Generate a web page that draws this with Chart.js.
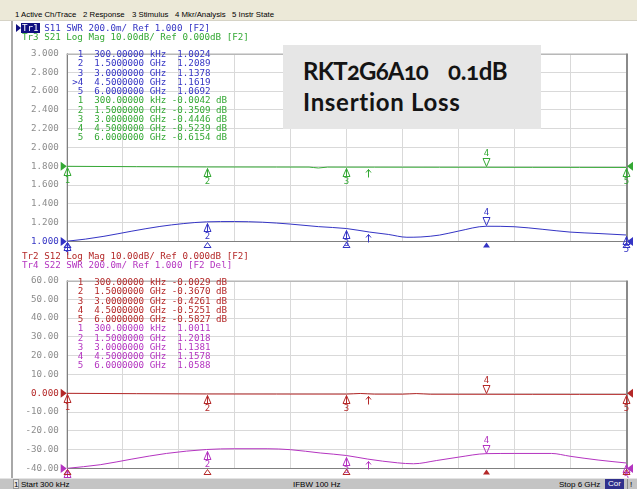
<!DOCTYPE html>
<html>
<head>
<meta charset="utf-8">
<script src="https://cdn.jsdelivr.net/npm/chart.js@4.4.0/dist/chart.umd.min.js"></script>
<style>
  body { margin: 0; width: 637px; height: 489px; position: relative; overflow: hidden; background: #fff; }
  .abs { position: absolute; white-space: pre; }
  .mono { font-family: "DejaVu Sans Mono", monospace; font-size: 9.2px; line-height: 10px; }
  #menu { left: 0; top: 0; width: 637px; height: 20px; background: #ece9d8; border-bottom: 1px solid #d6d3c6;
          font: 7.8px "Liberation Sans", Arial, sans-serif; color: #000; }
  #menu span { position: absolute; top: 10px; }
  #frameL { left: 11px; top: 21px; width: 2px; height: 458px; background: #a8a8a8; }
  #status { left: 0; top: 478px; width: 637px; height: 11px; background: #c4c4c4; border-top: 1px solid #e4e4e4;
            font: 8px "Liberation Sans", Arial, sans-serif; color: #000; }
  #status span { position: absolute; top: 1px; }
  #box { left: 283px; top: 45px; width: 258px; height: 84px; background: #e6e6e6;
         background-image: radial-gradient(#dadada 0.6px, transparent 0.7px); background-size: 2px 2px; }
  .boxText { font: bold 24px Lato, "Open Sans", sans-serif; line-height: 24px; color: #141414;
             font-feature-settings: "onum" 1; }
  canvas { position: absolute; left: 0; }
</style>
</head>
<body>
<div id="menu" class="abs">
  <span style="left:15px">1 Active Ch/Trace</span>
  <span style="left:83px">2 Response</span>
  <span style="left:132px">3 Stimulus</span>
  <span style="left:175px">4 Mkr/Analysis</span>
  <span style="left:232px">5 Instr State</span>
</div>
<div id="frameL" class="abs"></div>

<canvas id="topChart" width="637" height="215" style="top:40px"></canvas>
<canvas id="botChart" width="637" height="215" style="top:267px"></canvas>

<div id="box" class="abs"></div>
<div class="abs boxText" style="left:303px;top:59px;letter-spacing:-0.8px">RKT2G6A10</div>
<div class="abs boxText" style="left:448px;top:59px;letter-spacing:-0.3px">0.1dB</div>
<div class="abs boxText" style="left:303px;top:90px;letter-spacing:0.7px">Insertion Loss</div>

<div id="overlay"></div>

<div id="status" class="abs">
  <span style="left:13px;top:0;width:6px;height:10px;background:#e6e6e6;border:1px solid #999;box-sizing:border-box;text-align:center;line-height:9px">1</span>
  <span style="left:21px">Start 300 kHz</span>
  <span style="left:293px">IFBW 100 Hz</span>
  <span style="left:559px">Stop 6 GHz</span>
  <span style="left:605px;top:0;width:19px;height:10px;background:#30308c;color:#fff;text-align:center;line-height:10px">Cor</span>
  <span style="left:627px;top:0;width:1px;height:10px;background:#888"></span>
  <span style="left:630px">!</span>
</div>

<script>
// ---- data (frequency in GHz) ----
const markerFreqs = [0.0003, 1.5, 3.0, 4.5, 6.0];
const activeMarker = 3;           // marker 4
const refArrowFreq = 3.23;

const s11Markers = [1.0024, 1.2089, 1.1378, 1.1619, 1.0692];
const s21Markers = [-0.0042, -0.3509, -0.4446, -0.5239, -0.6154];
const s12Markers = [-0.0029, -0.3670, -0.4261, -0.5251, -0.5827];
const s22Markers = [1.0011, 1.2018, 1.1381, 1.1578, 1.0588];

const s11Freq = [0.0003, 0.2, 0.4, 0.7, 1.0, 1.25, 1.5, 1.8, 2.1, 2.4, 2.7, 3.0, 3.25, 3.45, 3.65, 3.8, 4.0, 4.2, 4.5, 4.8, 5.1, 5.4, 5.7, 6.0];
const s11Swr  = [1.0024, 1.025, 1.055, 1.11, 1.16, 1.19, 1.2089, 1.212, 1.205, 1.185, 1.158, 1.1378, 1.10, 1.075, 1.045, 1.048, 1.068, 1.11, 1.1619, 1.157, 1.13, 1.10, 1.085, 1.0692];

const s21Freq = [0.0003, 0.75, 1.5, 2.25, 2.6, 2.7, 2.8, 3.0, 3.3, 3.6, 4.0, 4.5, 5.0, 5.5, 6.0];
const s21Db   = [-0.0042, -0.20, -0.3509, -0.40, -0.42, -0.9, -0.43, -0.4446, -0.46, -0.48, -0.50, -0.5239, -0.55, -0.58, -0.6154];

const s12Freq = [0.0003, 0.75, 1.5, 2.25, 3.0, 3.15, 3.3, 3.6, 3.75, 3.9, 4.5, 5.0, 5.5, 6.0];
const s12Db   = [-0.0029, -0.20, -0.3670, -0.40, -0.4261, -0.1, -0.45, -0.47, -0.15, -0.50, -0.5251, -0.55, -0.57, -0.5827];

const s22Freq = [0.0003, 0.36, 0.7, 1.07, 1.5, 1.8, 2.15, 2.4, 2.72, 3.0, 3.23, 3.55, 3.72, 3.97, 4.2, 4.5, 4.8, 5.2, 5.4, 5.7, 6.0];
const s22Swr  = [1.0011, 1.04, 1.10, 1.16, 1.2018, 1.21, 1.21, 1.20, 1.165, 1.1381, 1.10, 1.06, 1.05, 1.085, 1.12, 1.1578, 1.16, 1.16, 1.13, 1.09, 1.0588];

const topTickLabels = ["3.000", "2.800", "2.600", "2.400", "2.200", "2.000", "1.800", "1.600", "1.400", "1.200", "1.000"];
const botTickLabels = ["60.00", "50.00", "40.00", "30.00", "20.00", "10.00", "0.000", "-10.00", "-20.00", "-30.00", "-40.00"];

const BLUE = '#3434c4', GREEN = '#34a834', RED = '#b42828', MAGENTA = '#b434c0';
const GRID = '#d9d9d9', FRAME = '#808080';

// ---- header + marker tables ----
const overlay = document.getElementById('overlay');
function addText(txt, x, y, color, extra) {
    const d = document.createElement('div');
    d.className = 'abs mono';
    d.style.left = x + 'px';
    d.style.top = y + 'px';
    d.style.color = color;
    if (extra) Object.assign(d.style, extra);
    d.textContent = txt;
    overlay.appendChild(d);
    return d;
}
function fmtFreq(f) {
    return f < 0.001 ? (f * 1e6).toFixed(5) + ' kHz' : f.toFixed(7) + ' GHz';
}
function markerTable(vals, isDb, color, y0, showActive) {
    vals.forEach((v, i) => {
        const pre = (showActive && i === activeMarker ? '>' : ' ') + (i + 1) + '  ' + fmtFreq(markerFreqs[i]);
        const txt = isDb ? pre + ' ' + v.toFixed(4) + ' dB' : pre + '  ' + v.toFixed(4);
        addText(txt, 72.2, y0 + i * 9.27, color);
    });
}

// upper header
const arrow = document.createElement('div');
arrow.className = 'abs';
Object.assign(arrow.style, { left: '16px', top: '23.5px', width: 0, height: 0, borderLeft: '5px solid #101080',
    borderTop: '4px solid transparent', borderBottom: '4px solid transparent' });
overlay.appendChild(arrow);
addText('Tr1', 22, 23, '#fff', { background: '#101080', padding: '0 1px', margin: '0 -1px' });
addText('    S11 SWR 200.0m/ Ref 1.000 [F2]', 22, 23, BLUE);
addText('Tr3 S21 Log Mag 10.00dB/ Ref 0.000dB [F2]', 22, 32, GREEN);
markerTable(s11Markers, false, BLUE, 49, true);
markerTable(s21Markers, true, GREEN, 49 + 5 * 9.27, false);

// lower header
addText('Tr2 S12 Log Mag 10.00dB/ Ref 0.000dB [F2]', 22, 251, RED);
addText('Tr4 S22 SWR 200.0m/ Ref 1.000 [F2 Del]', 22, 260, MAGENTA);
markerTable(s12Markers, true, RED, 277, false);
markerTable(s22Markers, false, MAGENTA, 277 + 5 * 9.27, false);

// ---- marker drawing plugin ----
function valueAt(fs, vs, f) {
    for (let i = 1; i < fs.length; i++) {
        if (f <= fs[i]) {
            const t = (f - fs[i - 1]) / (fs[i] - fs[i - 1]);
            return vs[i - 1] + t * (vs[i] - vs[i - 1]);
        }
    }
    return vs[vs.length - 1];
}

const markerPlugin = {
    id: 'vnaMarkers',
    beforeDatasetsDraw(chart) {
        const ctx = chart.ctx, a = chart.chartArea;
        ctx.save();
        ctx.strokeStyle = FRAME;
        ctx.lineWidth = 1;
        ctx.beginPath();
        ctx.moveTo(Math.round(a.left) + 0.5, a.top);
        ctx.lineTo(Math.round(a.left) + 0.5, Math.round(a.bottom) + 0.5);
        ctx.lineTo(a.right, Math.round(a.bottom) + 0.5);
        ctx.stroke();
        ctx.strokeStyle = '#b8b8b8';
        ctx.beginPath();
        ctx.moveTo(a.left, Math.round(a.top) + 0.5);
        ctx.lineTo(a.right, Math.round(a.top) + 0.5);
        ctx.stroke();
        ctx.strokeStyle = '#8a8a8a';
        ctx.lineWidth = 2;
        ctx.beginPath();
        ctx.moveTo(Math.round(a.right) + 1, a.top);
        ctx.lineTo(Math.round(a.right) + 1, a.bottom + 1);
        ctx.stroke();
        ctx.restore();
    },
    afterDatasetsDraw(chart, args, opts) {
        const ctx = chart.ctx, xs = chart.scales.x, a = chart.chartArea;
        ctx.save();
        ctx.lineWidth = 1;
        ctx.font = '9px "DejaVu Sans Mono", monospace';
        ctx.textAlign = 'center';
        opts.traces.forEach(t => {
            const ys = chart.scales[t.axis];
            const yRef = ys.getPixelForValue(t.ref);
            ctx.fillStyle = t.color;
            ctx.strokeStyle = t.color;
            // reference level triangles
            ctx.beginPath();
            ctx.moveTo(a.left, yRef); ctx.lineTo(a.left - 6, yRef - 4.5); ctx.lineTo(a.left - 6, yRef + 4.5);
            ctx.fill();
            ctx.beginPath();
            ctx.moveTo(a.right + 1, yRef); ctx.lineTo(a.right + 7, yRef - 4.5); ctx.lineTo(a.right + 7, yRef + 4.5);
            ctx.fill();
            // markers
            markerFreqs.forEach((f, i) => {
                const x = Math.round(xs.getPixelForValue(f)) + 0.5;
                const y = Math.round(ys.getPixelForValue(t.values[i])) + 0.5;
                ctx.beginPath();
                if (i === activeMarker) {
                    ctx.moveTo(x, y - 1); ctx.lineTo(x - 3.5, y - 9); ctx.lineTo(x + 3.5, y - 9); ctx.closePath();
                    ctx.stroke();
                    ctx.textBaseline = 'bottom';
                    ctx.fillText(String(i + 1), x, y - 9);
                } else {
                    ctx.moveTo(x, y + 1); ctx.lineTo(x - 3.5, y + 9); ctx.lineTo(x + 3.5, y + 9); ctx.closePath();
                    ctx.moveTo(x, y + 1); ctx.lineTo(x, y + 9);
                    ctx.stroke();
                    ctx.textBaseline = 'top';
                    ctx.fillText(String(i + 1), x, y + 9.5);
                }
            });
            // small arrow
            const xa = Math.round(xs.getPixelForValue(refArrowFreq)) + 0.5;
            const ya = Math.round(ys.getPixelForValue(valueAt(t.freqs, t.data, refArrowFreq))) + 0.5;
            ctx.beginPath();
            ctx.moveTo(xa, ya + 2); ctx.lineTo(xa, ya + 10);
            ctx.moveTo(xa - 2.5, ya + 5); ctx.lineTo(xa, ya + 2); ctx.lineTo(xa + 2.5, ya + 5);
            ctx.stroke();
        });
        // stimulus triangles under the grid
        ctx.strokeStyle = opts.activeColor;
        ctx.fillStyle = opts.activeColor;
        markerFreqs.forEach((f, i) => {
            const x = Math.round(xs.getPixelForValue(f)) + 0.5;
            const yb = Math.round(a.bottom) + 1.5;
            ctx.beginPath();
            ctx.moveTo(x, yb); ctx.lineTo(x - 3.5, yb + 5); ctx.lineTo(x + 3.5, yb + 5); ctx.closePath();
            if (i === activeMarker) ctx.fill(); else ctx.stroke();
        });
        ctx.restore();
    }
};

function toPoints(fs, vs) {
    return fs.map((f, i) => ({ x: f, y: vs[i] }));
}

function makeChart(id, cfg) {
    const lineDs = (label, fs, vs, color, axis) => ({
        label, data: toPoints(fs, vs), yAxisID: axis,
        borderColor: color, borderWidth: 1, pointRadius: 0,
        cubicInterpolationMode: 'monotone', fill: false
    });
    const tickVals = cfg.tickLabels.map(l => parseFloat(l)).sort((p, q) => p - q);
    return new Chart(document.getElementById(id), {
        type: 'line',
        data: { datasets: cfg.series.map(s => lineDs(s.label, s.freqs, s.data, s.color, s.axis)) },
        options: {
            responsive: false,
            animation: false,
            layout: { padding: { left: 6, right: 11, top: 9, bottom: 12 } },
            plugins: {
                legend: { display: false },
                tooltip: { enabled: false },
                vnaMarkers: { traces: cfg.series, activeColor: cfg.activeColor }
            },
            scales: {
                x: {
                    type: 'linear', min: markerFreqs[0], max: 6,
                    afterBuildTicks: s => {
                        s.ticks = [];
                        for (let k = 0; k <= 10; k++) s.ticks.push({ value: s.min + k * (s.max - s.min) / 10 });
                    },
                    ticks: { display: false },
                    grid: { color: GRID, drawTicks: false },
                    border: { display: false },
                    afterFit: s => { s.height = 0; }
                },
                [cfg.mainAxis]: {
                    type: 'linear', position: 'left', min: cfg.min, max: cfg.max,
                    afterBuildTicks: s => { s.ticks = tickVals.map(v => ({ value: v })); },
                    ticks: {
                        autoSkip: false, padding: 8,
                        font: { family: '"DejaVu Sans Mono", monospace', size: 9.2 },
                        color: c => Math.abs(c.tick.value - cfg.refTick) < 1e-9 ? cfg.activeColor : '#8c8c8c',
                        callback: v => cfg.tickLabels.find(l => Math.abs(parseFloat(l) - v) < 1e-9)
                    },
                    grid: { color: GRID, drawTicks: false },
                    border: { display: false },
                    afterFit: s => { s.width = 60.7; }
                },
                [cfg.hiddenAxis]: { type: 'linear', display: false, min: cfg.hMin, max: cfg.hMax }
            }
        },
        plugins: [markerPlugin]
    });
}

makeChart('topChart', {
    mainAxis: 'y', hiddenAxis: 'yDb', min: 1, max: 3, hMin: -40, hMax: 60,
    tickLabels: topTickLabels, refTick: 1, activeColor: BLUE,
    series: [
        { label: 'S21', freqs: s21Freq, data: s21Db, color: GREEN, axis: 'yDb', ref: 0, values: s21Markers },
        { label: 'S11', freqs: s11Freq, data: s11Swr, color: BLUE, axis: 'y', ref: 1, values: s11Markers }
    ]
});

makeChart('botChart', {
    mainAxis: 'y', hiddenAxis: 'ySwr', min: -40, max: 60, hMin: 1, hMax: 3,
    tickLabels: botTickLabels, refTick: 0, activeColor: RED,
    series: [
        { label: 'S12', freqs: s12Freq, data: s12Db, color: RED, axis: 'y', ref: 0, values: s12Markers },
        { label: 'S22', freqs: s22Freq, data: s22Swr, color: MAGENTA, axis: 'ySwr', ref: 1, values: s22Markers }
    ]
});
</script>
</body>
</html>
